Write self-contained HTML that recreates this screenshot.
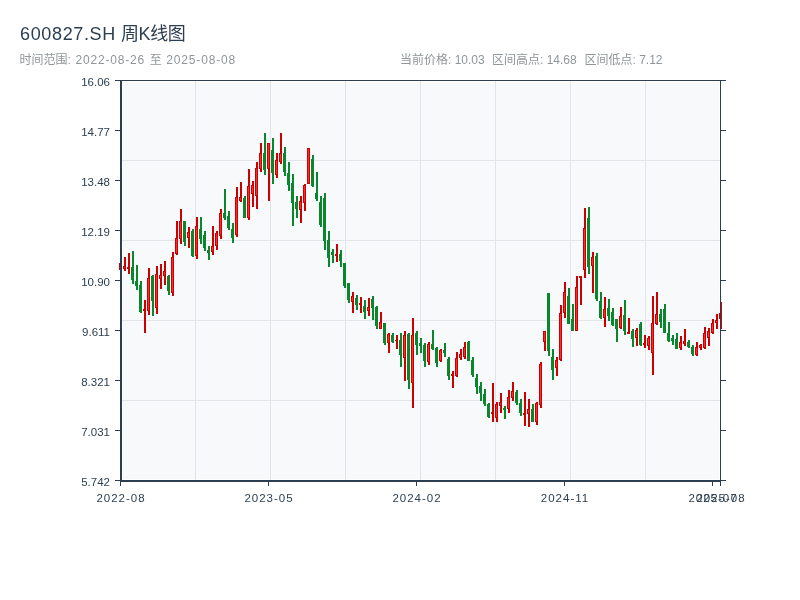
<!DOCTYPE html>
<html lang="zh-CN"><head><meta charset="utf-8"><title>600827.SH 周K线图</title>
<style>
html,body{margin:0;padding:0;background:#fff;}
body{will-change:transform;width:800px;height:600px;overflow:hidden;position:relative;font-family:"Liberation Sans","Noto Sans CJK SC",sans-serif;}
.title{position:absolute;left:20px;top:22px;font-size:18px;line-height:24px;color:#2c3e50;white-space:nowrap;letter-spacing:0;}
.n{letter-spacing:0.82px;}
.sub{position:absolute;top:52px;font-size:12px;line-height:16px;color:#8f9699;white-space:nowrap;}
svg{position:absolute;left:0;top:0;}
svg text{font-family:"Liberation Sans","Noto Sans CJK SC",sans-serif;font-size:11.5px;fill:#2c3e50;}
</style></head><body>
<div class="title"><span id="t1" style="letter-spacing:0.65px">600827.SH</span> <span id="t2" style="letter-spacing:-0.4px">周K线图</span></div>
<div class="sub" style="left:19.5px;word-spacing:1.3px">时间范围: <span class="n" id="d1">2022-08-26</span> <span id="zhi">至</span> <span class="n" id="d2">2025-08-08</span></div>
<div class="sub" style="left:400px">当前价格: <span id="n1">10.03</span></div>
<div class="sub" style="left:492px">区间高点: <span id="n2">14.68</span></div>
<div class="sub" style="left:584.5px">区间低点: <span id="n3">7.12</span></div>
<svg width="800" height="600" viewBox="0 0 800 600">
<rect x="123" y="82" width="596" height="397" fill="#f8f9fb"/>
<g stroke="#e1e5e9" stroke-width="1" shape-rendering="crispEdges">
<line x1="195.5" y1="80" x2="195.5" y2="481"/><line x1="270.5" y1="80" x2="270.5" y2="481"/><line x1="345.5" y1="80" x2="345.5" y2="481"/><line x1="420.5" y1="80" x2="420.5" y2="481"/><line x1="495.5" y1="80" x2="495.5" y2="481"/><line x1="570.5" y1="80" x2="570.5" y2="481"/><line x1="645.5" y1="80" x2="645.5" y2="481"/><line x1="121" y1="160.5" x2="721" y2="160.5"/><line x1="121" y1="240.5" x2="721" y2="240.5"/><line x1="121" y1="320.5" x2="721" y2="320.5"/><line x1="121" y1="400.5" x2="721" y2="400.5"/></g>
<g shape-rendering="crispEdges">
<rect x="120" y="260" width="2" height="12" fill="#cc0000"/><rect x="119" y="263" width="3" height="7" fill="#cc0000"/><rect x="120" y="264" width="1" height="5" fill="#ff2a2a"/>
<rect x="124" y="257" width="2" height="14" fill="#cc0000"/><rect x="123" y="266" width="3" height="3" fill="#cc0000"/><rect x="124" y="267" width="1" height="1" fill="#ff2a2a"/>
<rect x="128" y="253" width="2" height="21" fill="#cc0000"/><rect x="127" y="267" width="3" height="2" fill="#cc0000"/>
<rect x="132" y="251" width="2" height="33" fill="#08872d"/><rect x="131" y="267" width="3" height="13" fill="#08872d"/>
<rect x="136" y="265" width="2" height="25" fill="#08872d"/><rect x="135" y="281" width="3" height="5" fill="#08872d"/>
<rect x="140" y="281" width="2" height="32" fill="#08872d"/><rect x="139" y="285" width="3" height="27" fill="#08872d"/>
<rect x="144" y="300" width="2" height="33" fill="#cc0000"/><rect x="143" y="309" width="3" height="2" fill="#cc0000"/>
<rect x="148" y="268" width="2" height="47" fill="#cc0000"/><rect x="147" y="278" width="3" height="33" fill="#cc0000"/><rect x="148" y="279" width="1" height="31" fill="#ff2a2a"/>
<rect x="152" y="275" width="2" height="41" fill="#08872d"/><rect x="151" y="276" width="3" height="25" fill="#08872d"/>
<rect x="156" y="266" width="2" height="48" fill="#cc0000"/><rect x="155" y="274" width="3" height="34" fill="#cc0000"/><rect x="156" y="275" width="1" height="32" fill="#ff2a2a"/>
<rect x="160" y="264" width="2" height="25" fill="#cc0000"/><rect x="159" y="275" width="3" height="4" fill="#cc0000"/><rect x="160" y="276" width="1" height="2" fill="#ff2a2a"/>
<rect x="164" y="261" width="2" height="24" fill="#cc0000"/><rect x="163" y="271" width="3" height="5" fill="#cc0000"/><rect x="164" y="272" width="1" height="3" fill="#ff2a2a"/>
<rect x="168" y="275" width="2" height="20" fill="#08872d"/><rect x="167" y="276" width="3" height="15" fill="#08872d"/>
<rect x="172" y="252" width="2" height="44" fill="#cc0000"/><rect x="171" y="257" width="3" height="36" fill="#cc0000"/><rect x="172" y="258" width="1" height="34" fill="#ff2a2a"/>
<rect x="176" y="221" width="2" height="34" fill="#cc0000"/><rect x="175" y="238" width="3" height="16" fill="#cc0000"/><rect x="176" y="239" width="1" height="14" fill="#ff2a2a"/>
<rect x="180" y="209" width="2" height="35" fill="#cc0000"/><rect x="179" y="221" width="3" height="18" fill="#cc0000"/><rect x="180" y="222" width="1" height="16" fill="#ff2a2a"/>
<rect x="184" y="221" width="2" height="25" fill="#08872d"/><rect x="183" y="221" width="3" height="21" fill="#08872d"/>
<rect x="188" y="227" width="2" height="21" fill="#cc0000"/><rect x="187" y="232" width="3" height="6" fill="#cc0000"/><rect x="188" y="233" width="1" height="4" fill="#ff2a2a"/>
<rect x="192" y="229" width="2" height="28" fill="#08872d"/><rect x="191" y="231" width="3" height="25" fill="#08872d"/>
<rect x="196" y="217" width="2" height="42" fill="#cc0000"/><rect x="195" y="226" width="3" height="30" fill="#cc0000"/><rect x="196" y="227" width="1" height="28" fill="#ff2a2a"/>
<rect x="200" y="217" width="2" height="27" fill="#08872d"/><rect x="199" y="229" width="3" height="10" fill="#08872d"/>
<rect x="204" y="231" width="2" height="20" fill="#08872d"/><rect x="203" y="235" width="3" height="13" fill="#08872d"/>
<rect x="208" y="246" width="2" height="14" fill="#08872d"/><rect x="207" y="250" width="3" height="3" fill="#08872d"/>
<rect x="212" y="226" width="2" height="29" fill="#cc0000"/><rect x="211" y="246" width="3" height="6" fill="#cc0000"/><rect x="212" y="247" width="1" height="4" fill="#ff2a2a"/>
<rect x="216" y="231" width="2" height="19" fill="#cc0000"/><rect x="215" y="233" width="3" height="13" fill="#cc0000"/><rect x="216" y="234" width="1" height="11" fill="#ff2a2a"/>
<rect x="220" y="209" width="2" height="30" fill="#cc0000"/><rect x="219" y="213" width="3" height="23" fill="#cc0000"/><rect x="220" y="214" width="1" height="21" fill="#ff2a2a"/>
<rect x="224" y="189" width="2" height="31" fill="#08872d"/><rect x="223" y="213" width="3" height="5" fill="#08872d"/>
<rect x="228" y="211" width="2" height="19" fill="#08872d"/><rect x="227" y="216" width="3" height="12" fill="#08872d"/>
<rect x="232" y="223" width="2" height="20" fill="#08872d"/><rect x="231" y="229" width="3" height="9" fill="#08872d"/>
<rect x="236" y="187" width="2" height="50" fill="#cc0000"/><rect x="235" y="197" width="3" height="38" fill="#cc0000"/><rect x="236" y="198" width="1" height="36" fill="#ff2a2a"/>
<rect x="240" y="182" width="2" height="20" fill="#cc0000"/><rect x="239" y="197" width="3" height="4" fill="#cc0000"/><rect x="240" y="198" width="1" height="2" fill="#ff2a2a"/>
<rect x="244" y="196" width="2" height="22" fill="#08872d"/><rect x="243" y="198" width="3" height="20" fill="#08872d"/>
<rect x="248" y="169" width="2" height="51" fill="#cc0000"/><rect x="247" y="186" width="3" height="32" fill="#cc0000"/><rect x="248" y="187" width="1" height="30" fill="#ff2a2a"/>
<rect x="252" y="181" width="2" height="26" fill="#cc0000"/><rect x="251" y="185" width="3" height="9" fill="#cc0000"/><rect x="252" y="186" width="1" height="7" fill="#ff2a2a"/>
<rect x="256" y="162" width="2" height="47" fill="#cc0000"/><rect x="255" y="168" width="3" height="28" fill="#cc0000"/><rect x="256" y="169" width="1" height="26" fill="#ff2a2a"/>
<rect x="260" y="143" width="2" height="29" fill="#cc0000"/><rect x="259" y="153" width="3" height="16" fill="#cc0000"/><rect x="260" y="154" width="1" height="14" fill="#ff2a2a"/>
<rect x="264" y="133" width="2" height="42" fill="#08872d"/><rect x="263" y="153" width="3" height="17" fill="#08872d"/>
<rect x="268" y="143" width="2" height="58" fill="#cc0000"/><rect x="267" y="143" width="3" height="26" fill="#cc0000"/><rect x="268" y="144" width="1" height="24" fill="#ff2a2a"/>
<rect x="272" y="138" width="2" height="46" fill="#08872d"/><rect x="271" y="150" width="3" height="23" fill="#08872d"/>
<rect x="276" y="153" width="2" height="25" fill="#cc0000"/><rect x="275" y="160" width="3" height="15" fill="#cc0000"/><rect x="276" y="161" width="1" height="13" fill="#ff2a2a"/>
<rect x="280" y="133" width="2" height="31" fill="#cc0000"/><rect x="279" y="153" width="3" height="9" fill="#cc0000"/><rect x="280" y="154" width="1" height="7" fill="#ff2a2a"/>
<rect x="284" y="147" width="2" height="29" fill="#08872d"/><rect x="283" y="153" width="3" height="19" fill="#08872d"/>
<rect x="288" y="162" width="2" height="29" fill="#08872d"/><rect x="287" y="173" width="3" height="12" fill="#08872d"/>
<rect x="292" y="174" width="2" height="52" fill="#08872d"/><rect x="291" y="183" width="3" height="20" fill="#08872d"/>
<rect x="296" y="196" width="2" height="22" fill="#08872d"/><rect x="295" y="202" width="3" height="7" fill="#08872d"/>
<rect x="300" y="196" width="2" height="27" fill="#cc0000"/><rect x="299" y="201" width="3" height="9" fill="#cc0000"/><rect x="300" y="202" width="1" height="7" fill="#ff2a2a"/>
<rect x="304" y="184" width="2" height="27" fill="#cc0000"/><rect x="303" y="185" width="3" height="18" fill="#cc0000"/><rect x="304" y="186" width="1" height="16" fill="#ff2a2a"/>
<rect x="308" y="148" width="2" height="36" fill="#cc0000"/><rect x="307" y="148" width="3" height="36" fill="#cc0000"/><rect x="308" y="149" width="1" height="34" fill="#ff2a2a"/>
<rect x="312" y="155" width="2" height="32" fill="#08872d"/><rect x="311" y="159" width="3" height="27" fill="#08872d"/>
<rect x="316" y="172" width="2" height="29" fill="#08872d"/><rect x="315" y="193" width="3" height="6" fill="#08872d"/>
<rect x="320" y="196" width="2" height="31" fill="#08872d"/><rect x="319" y="202" width="3" height="23" fill="#08872d"/>
<rect x="324" y="193" width="2" height="57" fill="#08872d"/><rect x="323" y="198" width="3" height="43" fill="#08872d"/>
<rect x="328" y="231" width="2" height="36" fill="#08872d"/><rect x="327" y="240" width="3" height="18" fill="#08872d"/>
<rect x="332" y="249" width="2" height="14" fill="#08872d"/><rect x="331" y="252" width="3" height="3" fill="#08872d"/>
<rect x="336" y="244" width="2" height="18" fill="#cc0000"/><rect x="335" y="254" width="3" height="2" fill="#cc0000"/>
<rect x="340" y="250" width="2" height="17" fill="#08872d"/><rect x="339" y="254" width="3" height="7" fill="#08872d"/>
<rect x="344" y="263" width="2" height="25" fill="#08872d"/><rect x="343" y="263" width="3" height="23" fill="#08872d"/>
<rect x="348" y="283" width="2" height="20" fill="#08872d"/><rect x="347" y="283" width="3" height="17" fill="#08872d"/>
<rect x="352" y="292" width="2" height="21" fill="#cc0000"/><rect x="351" y="296" width="3" height="6" fill="#cc0000"/><rect x="352" y="297" width="1" height="4" fill="#ff2a2a"/>
<rect x="356" y="295" width="2" height="15" fill="#08872d"/><rect x="355" y="298" width="3" height="7" fill="#08872d"/>
<rect x="360" y="297" width="2" height="16" fill="#cc0000"/><rect x="359" y="303" width="3" height="2" fill="#cc0000"/>
<rect x="364" y="300" width="2" height="19" fill="#08872d"/><rect x="363" y="306" width="3" height="6" fill="#08872d"/>
<rect x="368" y="298" width="2" height="18" fill="#cc0000"/><rect x="367" y="307" width="3" height="4" fill="#cc0000"/><rect x="368" y="308" width="1" height="2" fill="#ff2a2a"/>
<rect x="372" y="296" width="2" height="24" fill="#08872d"/><rect x="371" y="299" width="3" height="9" fill="#08872d"/>
<rect x="376" y="306" width="2" height="23" fill="#08872d"/><rect x="375" y="307" width="3" height="19" fill="#08872d"/>
<rect x="380" y="312" width="2" height="17" fill="#cc0000"/><rect x="379" y="322" width="3" height="7" fill="#cc0000"/><rect x="380" y="323" width="1" height="5" fill="#ff2a2a"/>
<rect x="384" y="323" width="2" height="22" fill="#08872d"/><rect x="383" y="323" width="3" height="20" fill="#08872d"/>
<rect x="388" y="333" width="2" height="20" fill="#cc0000"/><rect x="387" y="334" width="3" height="9" fill="#cc0000"/><rect x="388" y="335" width="1" height="7" fill="#ff2a2a"/>
<rect x="392" y="333" width="2" height="10" fill="#08872d"/><rect x="391" y="335" width="3" height="7" fill="#08872d"/>
<rect x="396" y="335" width="2" height="14" fill="#cc0000"/><rect x="395" y="340" width="3" height="1" fill="#cc0000"/>
<rect x="400" y="333" width="2" height="34" fill="#08872d"/><rect x="399" y="340" width="3" height="15" fill="#08872d"/>
<rect x="404" y="331" width="2" height="50" fill="#cc0000"/><rect x="403" y="335" width="3" height="23" fill="#cc0000"/><rect x="404" y="336" width="1" height="21" fill="#ff2a2a"/>
<rect x="408" y="333" width="2" height="56" fill="#08872d"/><rect x="407" y="334" width="3" height="46" fill="#08872d"/>
<rect x="412" y="318" width="2" height="90" fill="#cc0000"/><rect x="411" y="335" width="3" height="48" fill="#cc0000"/><rect x="412" y="336" width="1" height="46" fill="#ff2a2a"/>
<rect x="416" y="331" width="2" height="24" fill="#08872d"/><rect x="415" y="333" width="3" height="12" fill="#08872d"/>
<rect x="420" y="338" width="2" height="15" fill="#08872d"/><rect x="419" y="343" width="3" height="3" fill="#08872d"/>
<rect x="424" y="343" width="2" height="24" fill="#08872d"/><rect x="423" y="345" width="3" height="16" fill="#08872d"/>
<rect x="428" y="342" width="2" height="23" fill="#cc0000"/><rect x="427" y="344" width="3" height="18" fill="#cc0000"/><rect x="428" y="345" width="1" height="16" fill="#ff2a2a"/>
<rect x="432" y="330" width="2" height="20" fill="#08872d"/><rect x="431" y="344" width="3" height="5" fill="#08872d"/>
<rect x="436" y="347" width="2" height="20" fill="#08872d"/><rect x="435" y="348" width="3" height="15" fill="#08872d"/>
<rect x="440" y="349" width="2" height="13" fill="#cc0000"/><rect x="439" y="350" width="3" height="11" fill="#cc0000"/><rect x="440" y="351" width="1" height="9" fill="#ff2a2a"/>
<rect x="444" y="343" width="2" height="14" fill="#08872d"/><rect x="443" y="350" width="3" height="3" fill="#08872d"/>
<rect x="448" y="357" width="2" height="23" fill="#08872d"/><rect x="447" y="359" width="3" height="17" fill="#08872d"/>
<rect x="452" y="371" width="2" height="17" fill="#cc0000"/><rect x="451" y="374" width="3" height="2" fill="#cc0000"/>
<rect x="456" y="352" width="2" height="25" fill="#cc0000"/><rect x="455" y="358" width="3" height="18" fill="#cc0000"/><rect x="456" y="359" width="1" height="16" fill="#ff2a2a"/>
<rect x="460" y="349" width="2" height="11" fill="#cc0000"/><rect x="459" y="354" width="3" height="4" fill="#cc0000"/><rect x="460" y="355" width="1" height="2" fill="#ff2a2a"/>
<rect x="464" y="342" width="2" height="17" fill="#cc0000"/><rect x="463" y="347" width="3" height="10" fill="#cc0000"/><rect x="464" y="348" width="1" height="8" fill="#ff2a2a"/>
<rect x="468" y="341" width="2" height="20" fill="#08872d"/><rect x="467" y="342" width="3" height="19" fill="#08872d"/>
<rect x="472" y="357" width="2" height="20" fill="#08872d"/><rect x="471" y="360" width="3" height="15" fill="#08872d"/>
<rect x="476" y="374" width="2" height="20" fill="#08872d"/><rect x="475" y="378" width="3" height="9" fill="#08872d"/>
<rect x="480" y="382" width="2" height="19" fill="#08872d"/><rect x="479" y="386" width="3" height="7" fill="#08872d"/>
<rect x="484" y="389" width="2" height="17" fill="#08872d"/><rect x="483" y="394" width="3" height="10" fill="#08872d"/>
<rect x="488" y="403" width="2" height="15" fill="#08872d"/><rect x="487" y="404" width="3" height="13" fill="#08872d"/>
<rect x="492" y="383" width="2" height="39" fill="#cc0000"/><rect x="491" y="412" width="3" height="2" fill="#cc0000"/>
<rect x="496" y="402" width="2" height="20" fill="#cc0000"/><rect x="495" y="404" width="3" height="14" fill="#cc0000"/><rect x="496" y="405" width="1" height="12" fill="#ff2a2a"/>
<rect x="500" y="393" width="2" height="20" fill="#cc0000"/><rect x="499" y="402" width="3" height="4" fill="#cc0000"/><rect x="500" y="403" width="1" height="2" fill="#ff2a2a"/>
<rect x="504" y="406" width="2" height="13" fill="#08872d"/><rect x="503" y="408" width="3" height="2" fill="#08872d"/>
<rect x="508" y="390" width="2" height="23" fill="#cc0000"/><rect x="507" y="397" width="3" height="12" fill="#cc0000"/><rect x="508" y="398" width="1" height="10" fill="#ff2a2a"/>
<rect x="512" y="382" width="2" height="19" fill="#cc0000"/><rect x="511" y="391" width="3" height="7" fill="#cc0000"/><rect x="512" y="392" width="1" height="5" fill="#ff2a2a"/>
<rect x="516" y="390" width="2" height="15" fill="#08872d"/><rect x="515" y="392" width="3" height="11" fill="#08872d"/>
<rect x="520" y="399" width="2" height="17" fill="#08872d"/><rect x="519" y="403" width="3" height="10" fill="#08872d"/>
<rect x="524" y="392" width="2" height="34" fill="#cc0000"/><rect x="523" y="413" width="3" height="2" fill="#cc0000"/>
<rect x="528" y="399" width="2" height="28" fill="#cc0000"/><rect x="527" y="409" width="3" height="5" fill="#cc0000"/><rect x="528" y="410" width="1" height="3" fill="#ff2a2a"/>
<rect x="532" y="404" width="2" height="18" fill="#08872d"/><rect x="531" y="409" width="3" height="13" fill="#08872d"/>
<rect x="536" y="402" width="2" height="23" fill="#cc0000"/><rect x="535" y="403" width="3" height="19" fill="#cc0000"/><rect x="536" y="404" width="1" height="17" fill="#ff2a2a"/>
<rect x="540" y="362" width="2" height="46" fill="#cc0000"/><rect x="539" y="364" width="3" height="41" fill="#cc0000"/><rect x="540" y="365" width="1" height="39" fill="#ff2a2a"/>
<rect x="544" y="331" width="2" height="20" fill="#cc0000"/><rect x="543" y="331" width="3" height="11" fill="#cc0000"/><rect x="544" y="332" width="1" height="9" fill="#ff2a2a"/>
<rect x="548" y="293" width="2" height="63" fill="#08872d"/><rect x="547" y="293" width="3" height="58" fill="#08872d"/>
<rect x="552" y="349" width="2" height="31" fill="#08872d"/><rect x="551" y="357" width="3" height="13" fill="#08872d"/>
<rect x="556" y="357" width="2" height="19" fill="#cc0000"/><rect x="555" y="360" width="3" height="8" fill="#cc0000"/><rect x="556" y="361" width="1" height="6" fill="#ff2a2a"/>
<rect x="560" y="305" width="2" height="56" fill="#cc0000"/><rect x="559" y="313" width="3" height="47" fill="#cc0000"/><rect x="560" y="314" width="1" height="45" fill="#ff2a2a"/>
<rect x="564" y="282" width="2" height="36" fill="#cc0000"/><rect x="563" y="292" width="3" height="21" fill="#cc0000"/><rect x="564" y="293" width="1" height="19" fill="#ff2a2a"/>
<rect x="568" y="288" width="2" height="36" fill="#08872d"/><rect x="567" y="296" width="3" height="28" fill="#08872d"/>
<rect x="572" y="304" width="2" height="27" fill="#08872d"/><rect x="571" y="319" width="3" height="12" fill="#08872d"/>
<rect x="576" y="276" width="2" height="55" fill="#cc0000"/><rect x="575" y="287" width="3" height="44" fill="#cc0000"/><rect x="576" y="288" width="1" height="42" fill="#ff2a2a"/>
<rect x="580" y="276" width="2" height="29" fill="#cc0000"/><rect x="579" y="276" width="3" height="2" fill="#cc0000"/>
<rect x="584" y="208" width="2" height="70" fill="#cc0000"/><rect x="583" y="228" width="3" height="42" fill="#cc0000"/><rect x="584" y="229" width="1" height="40" fill="#ff2a2a"/>
<rect x="588" y="207" width="2" height="67" fill="#08872d"/><rect x="587" y="218" width="3" height="49" fill="#08872d"/>
<rect x="592" y="252" width="2" height="41" fill="#cc0000"/><rect x="591" y="257" width="3" height="9" fill="#cc0000"/><rect x="592" y="258" width="1" height="7" fill="#ff2a2a"/>
<rect x="596" y="253" width="2" height="48" fill="#08872d"/><rect x="595" y="256" width="3" height="43" fill="#08872d"/>
<rect x="600" y="292" width="2" height="27" fill="#08872d"/><rect x="599" y="301" width="3" height="17" fill="#08872d"/>
<rect x="604" y="297" width="2" height="30" fill="#cc0000"/><rect x="603" y="309" width="3" height="9" fill="#cc0000"/><rect x="604" y="310" width="1" height="7" fill="#ff2a2a"/>
<rect x="608" y="299" width="2" height="22" fill="#08872d"/><rect x="607" y="308" width="3" height="8" fill="#08872d"/>
<rect x="612" y="308" width="2" height="18" fill="#08872d"/><rect x="611" y="312" width="3" height="13" fill="#08872d"/>
<rect x="616" y="319" width="2" height="23" fill="#08872d"/><rect x="615" y="319" width="3" height="10" fill="#08872d"/>
<rect x="620" y="307" width="2" height="22" fill="#cc0000"/><rect x="619" y="316" width="3" height="12" fill="#cc0000"/><rect x="620" y="317" width="1" height="10" fill="#ff2a2a"/>
<rect x="624" y="300" width="2" height="35" fill="#08872d"/><rect x="623" y="315" width="3" height="16" fill="#08872d"/>
<rect x="628" y="318" width="2" height="16" fill="#cc0000"/><rect x="627" y="332" width="3" height="2" fill="#cc0000"/>
<rect x="632" y="329" width="2" height="18" fill="#08872d"/><rect x="631" y="331" width="3" height="8" fill="#08872d"/>
<rect x="636" y="328" width="2" height="18" fill="#cc0000"/><rect x="635" y="330" width="3" height="8" fill="#cc0000"/><rect x="636" y="331" width="1" height="6" fill="#ff2a2a"/>
<rect x="640" y="322" width="2" height="24" fill="#08872d"/><rect x="639" y="324" width="3" height="21" fill="#08872d"/>
<rect x="644" y="335" width="2" height="13" fill="#cc0000"/><rect x="643" y="343" width="3" height="2" fill="#cc0000"/>
<rect x="648" y="336" width="2" height="14" fill="#cc0000"/><rect x="647" y="338" width="3" height="8" fill="#cc0000"/><rect x="648" y="339" width="1" height="6" fill="#ff2a2a"/>
<rect x="652" y="296" width="2" height="79" fill="#cc0000"/><rect x="651" y="323" width="3" height="30" fill="#cc0000"/><rect x="652" y="324" width="1" height="28" fill="#ff2a2a"/>
<rect x="656" y="292" width="2" height="33" fill="#cc0000"/><rect x="655" y="314" width="3" height="10" fill="#cc0000"/><rect x="656" y="315" width="1" height="8" fill="#ff2a2a"/>
<rect x="660" y="309" width="2" height="19" fill="#08872d"/><rect x="659" y="314" width="3" height="8" fill="#08872d"/>
<rect x="664" y="304" width="2" height="29" fill="#08872d"/><rect x="663" y="309" width="3" height="24" fill="#08872d"/>
<rect x="668" y="322" width="2" height="20" fill="#08872d"/><rect x="667" y="333" width="3" height="8" fill="#08872d"/>
<rect x="672" y="335" width="2" height="10" fill="#08872d"/><rect x="671" y="338" width="3" height="3" fill="#08872d"/>
<rect x="676" y="333" width="2" height="16" fill="#08872d"/><rect x="675" y="339" width="3" height="10" fill="#08872d"/>
<rect x="680" y="336" width="2" height="14" fill="#cc0000"/><rect x="679" y="342" width="3" height="6" fill="#cc0000"/><rect x="680" y="343" width="1" height="4" fill="#ff2a2a"/>
<rect x="684" y="329" width="2" height="17" fill="#cc0000"/><rect x="683" y="341" width="3" height="3" fill="#cc0000"/><rect x="684" y="342" width="1" height="1" fill="#ff2a2a"/>
<rect x="688" y="340" width="2" height="8" fill="#08872d"/><rect x="687" y="342" width="3" height="5" fill="#08872d"/>
<rect x="692" y="345" width="2" height="11" fill="#08872d"/><rect x="691" y="347" width="3" height="7" fill="#08872d"/>
<rect x="696" y="342" width="2" height="14" fill="#cc0000"/><rect x="695" y="347" width="3" height="8" fill="#cc0000"/><rect x="696" y="348" width="1" height="6" fill="#ff2a2a"/>
<rect x="700" y="344" width="2" height="6" fill="#cc0000"/><rect x="699" y="345" width="3" height="3" fill="#cc0000"/><rect x="700" y="346" width="1" height="1" fill="#ff2a2a"/>
<rect x="704" y="327" width="2" height="22" fill="#cc0000"/><rect x="703" y="333" width="3" height="15" fill="#cc0000"/><rect x="704" y="334" width="1" height="13" fill="#ff2a2a"/>
<rect x="708" y="328" width="2" height="18" fill="#cc0000"/><rect x="707" y="331" width="3" height="7" fill="#cc0000"/><rect x="708" y="332" width="1" height="5" fill="#ff2a2a"/>
<rect x="712" y="319" width="2" height="15" fill="#cc0000"/><rect x="711" y="323" width="3" height="10" fill="#cc0000"/><rect x="712" y="324" width="1" height="8" fill="#ff2a2a"/>
<rect x="716" y="314" width="2" height="15" fill="#cc0000"/><rect x="715" y="320" width="3" height="3" fill="#cc0000"/><rect x="716" y="321" width="1" height="1" fill="#ff2a2a"/>
<rect x="720" y="302" width="2" height="27" fill="#cc0000"/><rect x="719" y="313" width="3" height="6" fill="#cc0000"/><rect x="720" y="314" width="1" height="4" fill="#ff2a2a"/>
</g>
<g fill="#2c3e50" shape-rendering="crispEdges">
<rect x="120" y="80" width="2" height="402"/><rect x="120" y="480" width="601" height="2"/><rect x="120" y="80" width="601" height="1"/><rect x="720" y="80" width="1" height="402"/><rect x="115" y="80" width="5" height="1"/><rect x="721" y="80" width="5" height="1"/><rect x="115" y="130" width="5" height="1"/><rect x="721" y="130" width="5" height="1"/><rect x="115" y="180" width="5" height="1"/><rect x="721" y="180" width="5" height="1"/><rect x="115" y="230" width="5" height="1"/><rect x="721" y="230" width="5" height="1"/><rect x="115" y="280" width="5" height="1"/><rect x="721" y="280" width="5" height="1"/><rect x="115" y="330" width="5" height="1"/><rect x="721" y="330" width="5" height="1"/><rect x="115" y="380" width="5" height="1"/><rect x="721" y="380" width="5" height="1"/><rect x="115" y="430" width="5" height="1"/><rect x="721" y="430" width="5" height="1"/><rect x="115" y="480" width="5" height="1"/><rect x="721" y="480" width="5" height="1"/><rect x="120" y="482" width="1" height="4"/><rect x="268" y="482" width="1" height="4"/><rect x="416" y="482" width="1" height="4"/><rect x="564" y="482" width="1" height="4"/><rect x="712" y="482" width="1" height="4"/><rect x="720" y="482" width="1" height="4"/></g>
<text x="110" y="85.5" text-anchor="end">16.06</text><text x="110" y="135.5" text-anchor="end">14.77</text><text x="110" y="185.5" text-anchor="end">13.48</text><text x="110" y="235.5" text-anchor="end">12.19</text><text x="110" y="285.5" text-anchor="end">10.90</text><text x="110" y="335.5" text-anchor="end">9.611</text><text x="110" y="385.5" text-anchor="end">8.321</text><text x="110" y="435.5" text-anchor="end">7.031</text><text x="110" y="485.5" text-anchor="end">5.742</text><text x="121.0" y="502" text-anchor="middle" letter-spacing="1">2022-08</text><text x="269.0" y="502" text-anchor="middle" letter-spacing="1">2023-05</text><text x="417.0" y="502" text-anchor="middle" letter-spacing="1">2024-02</text><text x="565.0" y="502" text-anchor="middle" letter-spacing="1">2024-11</text><text x="713.0" y="502" text-anchor="middle" letter-spacing="1">2025-07</text><text x="721.0" y="502" text-anchor="middle" letter-spacing="1">2025-08</text>
</svg>
</body></html>
